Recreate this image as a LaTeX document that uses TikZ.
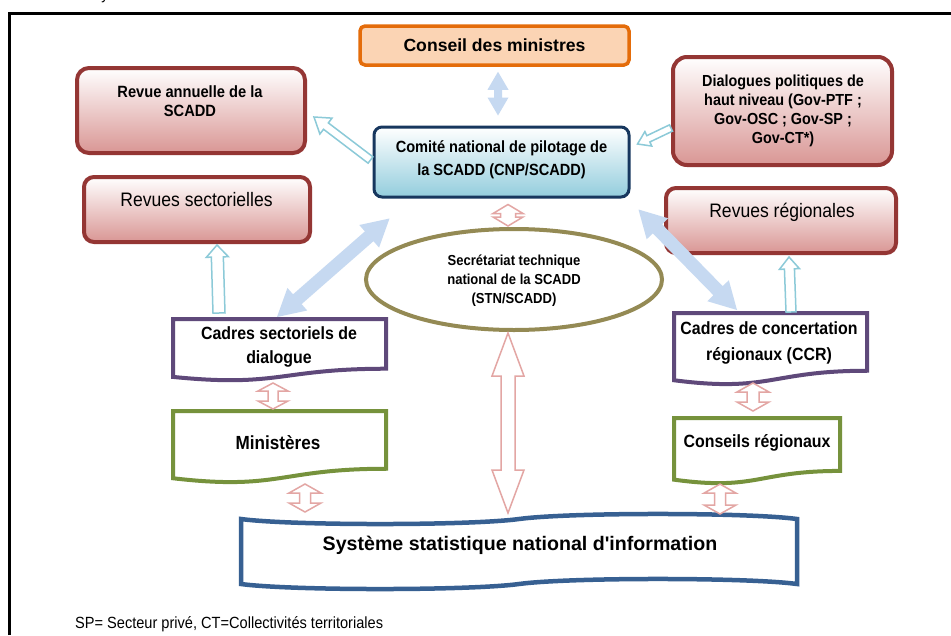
\documentclass[tikz,border=0pt]{standalone}
\usepackage{fontspec}
\setmainfont{Liberation Sans}
\newfontfamily\nar[FakeStretch=0.9]{Liberation Sans}
\usetikzlibrary{calc,shapes.geometric}
\definecolor{redbd}{HTML}{943634}
\definecolor{redbt}{HTML}{D99694}
\definecolor{navybd}{HTML}{17375E}
\definecolor{cnpbot}{HTML}{93CDDD}
\definecolor{orgbd}{HTML}{E46C0A}
\definecolor{orgfill}{HTML}{FBD4B4}
\definecolor{purp}{HTML}{5F497A}
\definecolor{grn}{HTML}{76923C}
\definecolor{sysbl}{HTML}{376092}
\definecolor{olivebd}{HTML}{948A54}
\definecolor{bluefill}{HTML}{C6D9F1}
\definecolor{aqua}{HTML}{8CCAD8}
\definecolor{pinkl}{HTML}{E3A6A4}
% double block arrow: style, A, B, head length, head half width, shaft half width
\newcommand{\dblarr}[6]{%
  \coordinate (hA) at ($(#2)!#4!(#3)$);
  \coordinate (hB) at ($(#3)!#4!(#2)$);
  \path[#1] (#2) -- ($(hA)!#5!90:(#3)$) -- ($(hA)!#6!90:(#3)$) -- ($(hB)!#6!-90:(#2)$) -- ($(hB)!#5!-90:(#2)$) -- (#3) -- ($(hB)!#5!90:(#2)$) -- ($(hB)!#6!90:(#2)$) -- ($(hA)!#6!-90:(#3)$) -- ($(hA)!#5!-90:(#3)$) -- cycle;}
% single block arrow: style, tail A, tip B, head length, head half width, shaft half width
\newcommand{\sglarr}[6]{%
  \coordinate (hB) at ($(#3)!#4!(#2)$);
  \path[#1] (#3) -- ($(hB)!#5!90:(#2)$) -- ($(hB)!#6!90:(#2)$) -- ($(#2)!#6!-90:(#3)$) -- ($(#2)!#6!90:(#3)$) -- ($(hB)!#6!-90:(#2)$) -- ($(hB)!#5!-90:(#2)$) -- cycle;}
\tikzset{
  redbox/.style={draw=redbd, line width=4pt, top color=white, bottom color=redbt, inner sep=0pt},
  area/.style={inner sep=0pt, outer sep=0pt, rectangle},
  txt/.style={align=center, inner sep=0pt, text=black},
  bfn/.style={font=\nar\bfseries\fontsize{#1}{19}\selectfont},
  bluefat/.style={fill=bluefill, draw=none},
  pinkhol/.style={draw=pinkl, line width=1.5pt, fill=white},
  aquahol/.style={draw=aqua, line width=1.5pt, fill=white},
  docline/.style={line width=4pt, fill=white, line join=miter},
}
\begin{document}
\begin{tikzpicture}[x=1pt,y=-1pt]
\useasboundingbox (0,0) rectangle (951,635);
\fill[white] (0,0) rectangle (951,635);
% frame
\draw[line width=2.8pt] (9.5,635) -- (9.5,13.5) -- (951,13.5);
\node[anchor=base, inner sep=0pt, font=\nar\fontsize{16}{19}\selectfont] (frag) at (105,-1) {y};

% boxes
\node[draw=orgbd, line width=3.5pt, fill=orgfill, rounded corners=5pt, minimum width=269pt, minimum height=39pt, inner sep=0pt,
      font=\bfseries\fontsize{17.6}{20}\selectfont] (cm) at (494.5,45.5) {Conseil des ministres};
\node[draw=navybd, line width=3pt, top color=white, bottom color=cnpbot, rounded corners=8pt, minimum width=255pt, minimum height=70pt] (cnp) at (501.5,162) {};
\node[txt, font=\nar\bfseries\fontsize{16.2}{23}\selectfont] (cnp-t) at (501.5,160) {Comité national de pilotage de\\la SCADD (CNP/SCADD)};

\node[redbox, rounded corners=12pt, minimum width=228pt, minimum height=85pt] (ra) at (191,110.5) {};
\node[txt, bfn=16.3] (ra-t) at (190,101.5) {Revue annuelle de la\\SCADD};
\node[redbox, rounded corners=10pt, minimum width=226pt, minimum height=65pt] (rs) at (197,209.5) {};
\node[txt, font=\nar\fontsize{19.5}{22}\selectfont] (rs-t) at (196.5,200) {Revues sectorielles};
\node[redbox, rounded corners=14pt, minimum width=219pt, minimum height=108pt] (dp) at (782.5,111) {};
\node[txt, bfn=16] (dp-t) at (783,111) {Dialogues politiques de\\haut niveau (Gov-PTF ;\\Gov-OSC ; Gov-SP ;\\Gov-CT*)};
\node[redbox, rounded corners=10pt, minimum width=230pt, minimum height=65pt] (rr) at (781,220.5) {};
\node[txt, font=\nar\fontsize{19.5}{22}\selectfont] (rr-t) at (782,212) {Revues régionales};

\node[ellipse, draw=olivebd, line width=4pt, fill=white, minimum width=296pt, minimum height=101pt, inner sep=0pt] (stn) at (514,279.5) {};
\node[txt, font=\nar\bfseries\fontsize{14.5}{19}\selectfont] (stn-t) at (514,281) {Secrétariat technique\\national de la SCADD\\(STN/SCADD)};

% document shapes
\draw[docline, draw=purp] (173,319) -- ++(213,0) -- ++(0,0.802*62) .. controls +(-0.5*213,0) and +(0.5*213,0.173*62) .. ++(-213,0.132*62) -- cycle;
\node[area, minimum width=213pt, minimum height=58pt] (csd) at (279.5,348) {};
\node[txt, font=\nar\bfseries\fontsize{17.7}{24}\selectfont] (csd-t) at (279,347) {Cadres sectoriels de\\dialogue};

\draw[docline, draw=grn] (173,411) -- ++(213,0) -- ++(0,0.802*72) .. controls +(-0.5*213,0) and +(0.5*213,0.173*72) .. ++(-213,0.132*72) -- cycle;
\node[area, minimum width=213pt, minimum height=67pt] (min) at (279.5,444.5) {};
\node[txt, font=\nar\bfseries\fontsize{19}{22}\selectfont] (min-t) at (278,443) {Ministères};

\draw[docline, draw=purp] (674,313) -- ++(193,0) -- ++(0,0.802*72) .. controls +(-0.5*193,0) and +(0.5*193,0.173*72) .. ++(-193,0.132*72) -- cycle;
\node[area, minimum width=193pt, minimum height=67pt] (ccr) at (770.5,346.5) {};
\node[txt, font=\nar\bfseries\fontsize{17.7}{26}\selectfont] (ccr-t) at (769,343) {Cadres de concertation\\régionaux (CCR)};

\draw[docline, draw=grn] (674,418) -- ++(166,0) -- ++(0,0.802*66) .. controls +(-0.5*166,0) and +(0.5*166,0.173*66) .. ++(-166,0.132*66) -- cycle;
\node[area, minimum width=166pt, minimum height=61.6pt] (crg) at (757,448.8) {};
\node[txt, font=\nar\bfseries\fontsize{17.7}{22}\selectfont] (crg-t) at (757,443) {Conseils régionaux};

% punched tape
\draw[line width=4.5pt, draw=sysbl, fill=white] (241,519) .. controls +(50,6.7) and +(-50,6.7) .. (519,519) .. controls +(50,-6.7) and +(-50,-6.7) .. (797,519) -- (797,584) .. controls +(-50,-6.7) and +(50,-6.7) .. (519,584) .. controls +(-50,6.7) and +(50,6.7) .. (241,584) -- cycle;
\node[area, minimum width=556pt, minimum height=65pt] (ssn) at (519,551.5) {};
\node[txt, font=\bfseries\fontsize{19.6}{22}\selectfont] (ssn-t) at (520,545) {Système statistique national d\textquotesingle information};

% footnote
\node[anchor=base west, inner sep=0pt, font=\nar\fontsize{16.2}{19}\selectfont] (foot) at (75,628) {SP= Secteur privé, CT=Collectivités territoriales};

% arrows
\coordinate (a1) at ($(cm.south)+(3.5,5)$);
\coordinate (a2) at ($(cnp.north)+(-3.5,-10)$);
\dblarr{bluefat}{a1}{a2}{18pt}{10.5pt}{4pt}

\coordinate (b1) at ($(cnp.south)+(6.5,6)$);
\coordinate (b2) at ($(stn.north)+(-6,-1)$);
\dblarr{pinkhol}{b1}{b2}{9pt}{15pt}{7.5pt}

\coordinate (c1) at ($(stn.south)+(-6,1)$);
\coordinate (c2) at ($(ssn.north)+(-11,-6)$);
\dblarr{pinkhol}{c1}{c2}{43pt}{16pt}{7pt}

\coordinate (d1) at ($(csd.north)+(-2.5,-2)$);
\coordinate (d2) at ($(cnp.south west)+(17,20)$);
\dblarr{bluefat}{d1}{d2}{27pt}{15pt}{6.5pt}

\coordinate (e1) at ($(cnp.south east)+(8,11)$);
\coordinate (e2) at ($(ccr.north west)+(63,-3)$);
\dblarr{bluefat}{e1}{e2}{27pt}{15pt}{6.5pt}

\coordinate (f1) at ($(csd.south)+(-6.5,6)$);
\coordinate (f2) at ($(min.north)+(-6.5,-2)$);
\dblarr{pinkhol}{f1}{f2}{8pt}{15pt}{5pt}

\coordinate (g1) at ($(min.south)+(25.5,6)$);
\coordinate (g2) at ($(ssn.north west)+(64,-7)$);
\dblarr{pinkhol}{g1}{g2}{9pt}{16pt}{5.5pt}

\coordinate (h1) at ($(ccr.south)+(-17.5,3)$);
\coordinate (h2) at ($(crg.north)+(-4,-7)$);
\dblarr{pinkhol}{h1}{h2}{9pt}{16pt}{6pt}

\coordinate (i1) at ($(crg.south)+(-37,4.5)$);
\coordinate (i2) at ($(ssn.north east)+(-77,-5)$);
\dblarr{pinkhol}{i1}{i2}{9pt}{16pt}{5.5pt}

\coordinate (j1) at ($(csd.north west)+(46,-6)$);
\coordinate (j2) at ($(rs.south west)+(135,1)$);
\sglarr{aquahol}{j1}{j2}{12pt}{11pt}{6pt}

\coordinate (k1) at ($(ccr.north west)+(117,-1)$);
\coordinate (k2) at ($(rr.south west)+(125,2)$);
\sglarr{aquahol}{k1}{k2}{12pt}{10pt}{5pt}

\coordinate (l1) at ($(cnp.west)+(-2,-2)$);
\coordinate (l2) at ($(ra.east)+(7,6.5)$);
\sglarr{aquahol}{l1}{l2}{15pt}{10pt}{4pt}

\coordinate (m1) at ($(dp.west)+(0,17)$);
\coordinate (m2) at ($(cnp.east)+(7,-18)$);
\sglarr{aquahol}{m1}{m2}{12pt}{8pt}{3.5pt}
\end{tikzpicture}
\end{document}
